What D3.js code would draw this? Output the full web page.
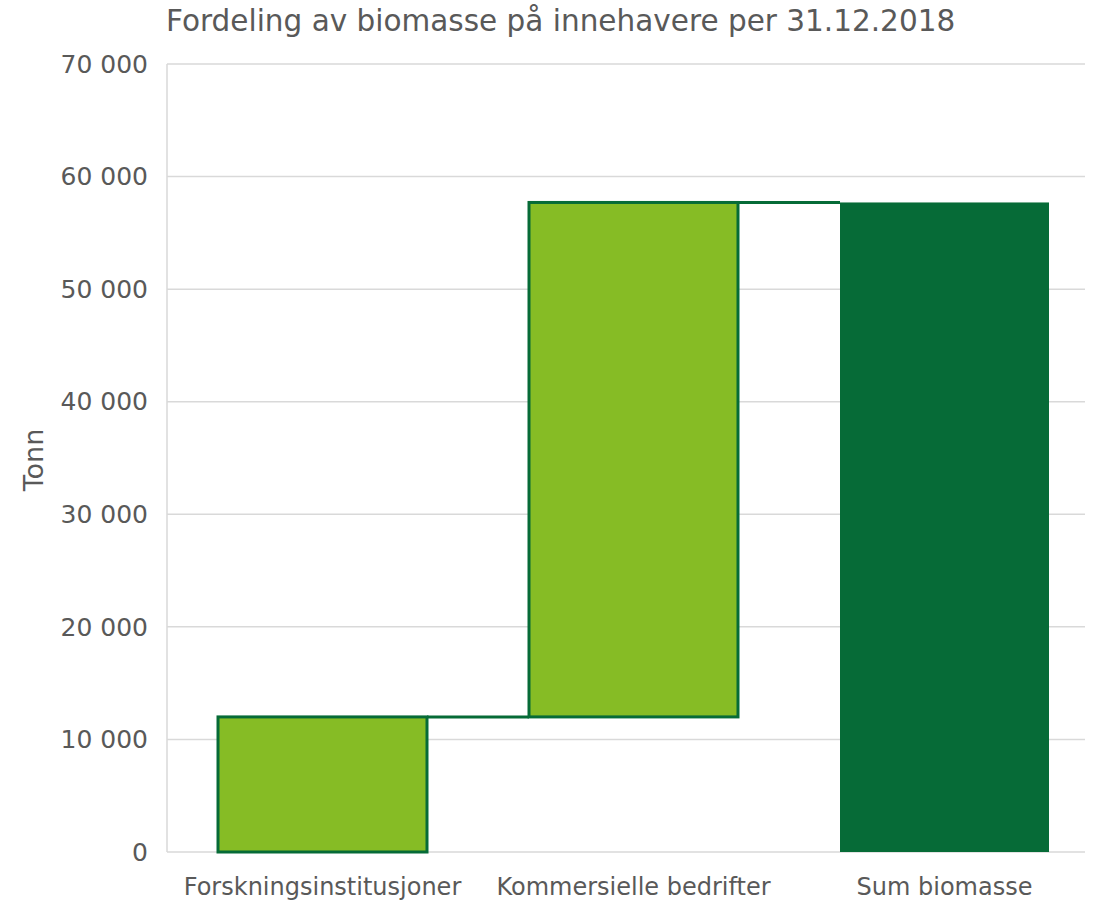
<!DOCTYPE html>
<html>
<head>
<meta charset="utf-8">
<script src="https://cdn.jsdelivr.net/npm/d3@7"></script>
<style>
body { margin: 0; background: #fff; }
text { font-family: "DejaVu Sans", Verdana, sans-serif; fill: #595959; }
</style>
</head>
<body>
<div id="graph"></div>
<script>
var title = "Fordeling av biomasse på innehavere per 31.12.2018";
var categories = ["Forskningsinstitusjoner", "Kommersielle bedrifter", "Sum biomasse"];
var values = [12000, 45700];
var total = 57700;
var yTicks = [0, 10000, 20000, 30000, 40000, 50000, 60000, 70000];

var W = 1112, H = 900;
var margin = { top: 64, right: 27, bottom: 48, left: 167 };

var svg = d3.select("#graph").append("svg").attr("width", W).attr("height", H);
var g = svg.append("g").attr("transform", "translate(" + margin.left + "," + margin.top + ")");
var w = W - margin.left - margin.right, h = H - margin.top - margin.bottom;

var x = d3.scaleBand().domain(categories).range([0, 933]).paddingInner(0.328).paddingOuter(0.164);
var y = d3.scaleLinear().domain([0, 70000]).range([h, 0]);

// build waterfall rows
var rows = [];
var run = 0;
values.forEach(function(v, i) {
	rows.push({ cat: categories[i], start: run, end: run + v, total: false });
	run += v;
});
rows.push({ cat: categories[2], start: 0, end: total, total: true });

var fmt = function(d) { return d3.format(",")(d).replace(/,/g, " "); };

// gridlines
g.selectAll("line.grid")
 .data(yTicks)
 .enter()
 .append("line")
 .attr("class", "grid")
 .attr("x1", 0).attr("x2", w)
 .attr("y1", function(d) { return y(d); })
 .attr("y2", function(d) { return y(d); })
 .attr("stroke", "#d9d9d9")
 .attr("stroke-width", 1.5);

g.append("line")
 .attr("x1", 0).attr("x2", 0).attr("y1", 0).attr("y2", h)
 .attr("stroke", "#d9d9d9").attr("stroke-width", 1.5);

// y tick labels
g.selectAll("text.ytick")
 .data(yTicks)
 .enter()
 .append("text")
 .attr("class", "ytick")
 .attr("x", -19)
 .attr("y", function(d) { return y(d); })
 .attr("dy", "0.35em")
 .attr("text-anchor", "end")
 .style("font-size", "25px")
 .text(fmt);

// connectors
for (var i = 0; i < rows.length - 1; i++) {
	var a = rows[i], b = rows[i + 1];
	g.append("line")
	 .attr("x1", x(a.cat) + x.bandwidth())
	 .attr("x2", x(b.cat))
	 .attr("y1", y(a.end))
	 .attr("y2", y(a.end))
	 .attr("stroke", "#066b37")
	 .attr("stroke-width", 3);
}

// bars
g.selectAll("rect.bar")
 .data(rows)
 .enter()
 .append("rect")
 .attr("class", "bar")
 .attr("x", function(d) { return x(d.cat); })
 .attr("width", x.bandwidth())
 .attr("y", function(d) { return y(d.end); })
 .attr("height", function(d) { return y(d.start) - y(d.end); })
 .attr("fill", function(d) { return d.total ? "#066b37" : "#86bc25"; })
 .attr("stroke", "#066b37")
 .attr("stroke-width", function(d) { return d.total ? 0 : 3; });

// x labels
g.selectAll("text.xlab")
 .data(categories)
 .enter()
 .append("text")
 .attr("class", "xlab")
 .attr("x", function(d) { return x(d) + x.bandwidth() / 2; })
 .attr("y", h + 43)
 .attr("text-anchor", "middle")
 .style("font-size", "24px")
 .text(function(d) { return d; });

// axis title
svg.append("text")
 .attr("transform", "translate(43," + (margin.top + h / 2 + 2) + ") rotate(-90)")
 .attr("text-anchor", "middle")
 .style("font-size", "27px")
 .text("Tonn");

// chart title
svg.append("text")
 .attr("x", 166)
 .attr("y", 31)
 .style("font-size", "29.5px")
 .text(title);
</script>
</body>
</html>
